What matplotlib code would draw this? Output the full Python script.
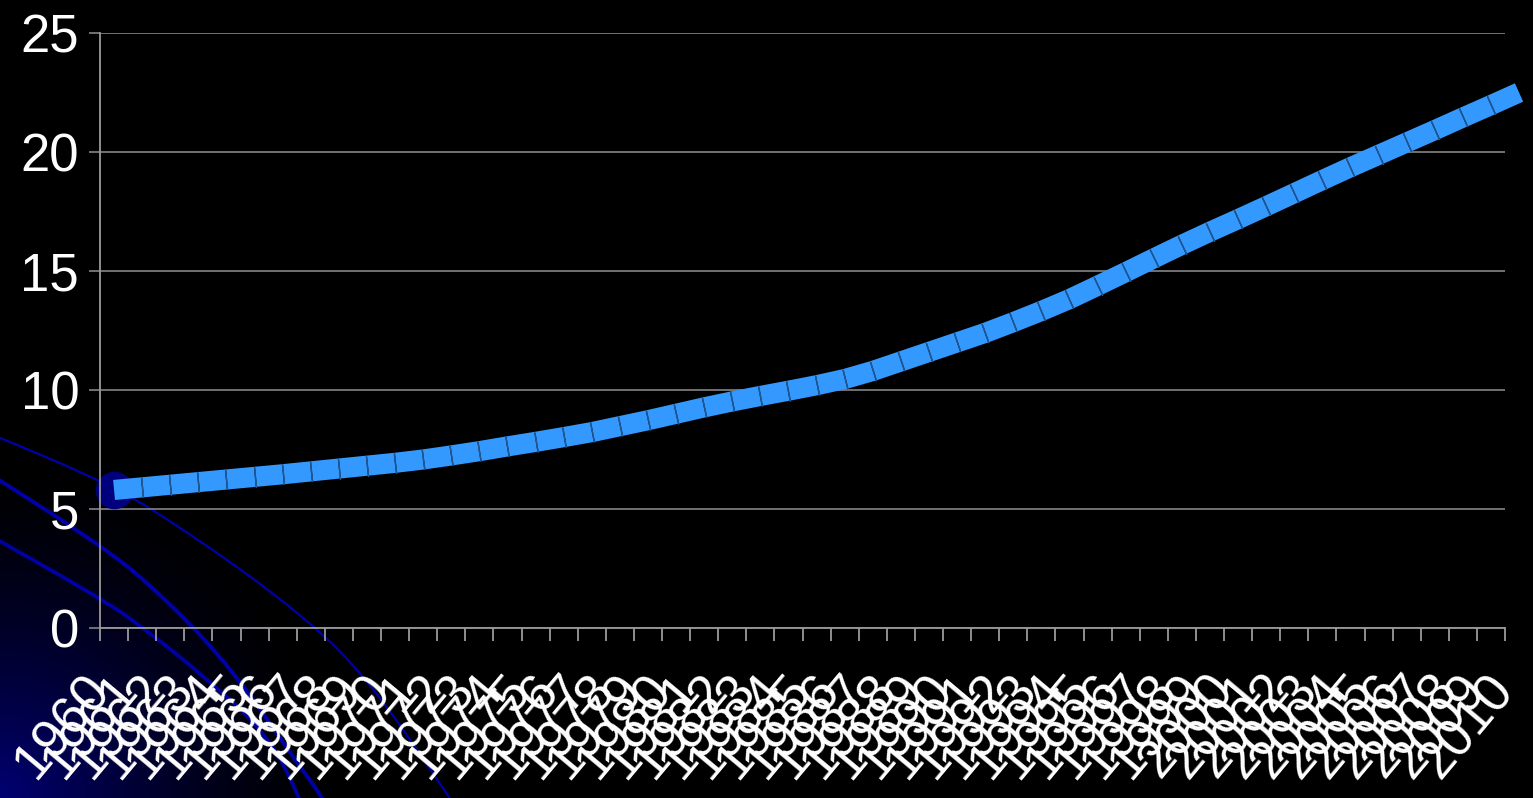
import numpy as np
import matplotlib
matplotlib.use("Agg")
import matplotlib.pyplot as plt
from matplotlib.path import Path
from matplotlib.patches import PathPatch

plt.rcParams['font.family'] = ['Liberation Sans', 'DejaVu Sans']

years = [str(y) for y in range(1960, 2011)]
values = [5.80, 5.91, 6.02, 6.13, 6.24, 6.35, 6.46, 6.58, 6.70, 6.82,
          6.94, 7.08, 7.25, 7.43, 7.63, 7.82, 8.02, 8.23, 8.48, 8.73,
          9.00, 9.27, 9.52, 9.75, 9.97, 10.20, 10.46, 10.80, 11.20, 11.60,
          12.00, 12.40, 12.85, 13.32, 13.82, 14.38, 14.95, 15.53, 16.10, 16.65,
          17.18, 17.72, 18.27, 18.82, 19.36, 19.88, 20.40, 20.92, 21.45, 21.97,
          22.50]
yticks = [0, 5, 10, 15, 20, 25]

W, H = 1533, 798
fig = plt.figure(figsize=(W / 100, H / 100), dpi=100, facecolor='black')

# slide backdrop: blue glow and swooshes in the lower-left corner
bg = fig.add_axes([0, 0, 1, 1], zorder=0)
gx, gy = np.meshgrid(np.arange(0, 520), np.arange(380, H))
r = np.hypot(gx, H - gy)
glow = np.clip(1 - r / 340.0, 0, 1) ** 1.5
img = np.zeros(gx.shape + (3,))
img[..., 2] = 0.45 * glow
bg.imshow(img, extent=(0, 520, H, 380), aspect='auto', interpolation='bilinear')


def swoosh(pts, lw):
    pts = np.asarray(pts, float)
    verts = [pts[0]]
    codes = [Path.MOVETO]
    for i in range(1, len(pts) - 1):
        verts += [pts[i], (pts[i] + pts[i + 1]) / 2]
        codes += [Path.CURVE3, Path.CURVE3]
    verts.append(pts[-1])
    codes.append(Path.LINETO)
    bg.add_patch(PathPatch(Path(verts, codes), fill=False, ec='#0000a8', lw=lw))


swoosh([(-20, 430), (100, 477), (200, 540), (300, 613), (367, 677), (450, 798), (470, 830)], 1.6)
swoosh([(-20, 468), (100, 543), (167, 600), (233, 670), (300, 767), (323, 798), (340, 830)], 2.8)
swoosh([(-20, 530), (100, 597), (150, 633), (200, 673), (267, 733), (300, 798), (310, 830)], 2.6)
bg.set_xlim(0, W)
bg.set_ylim(H, 0)
bg.axis('off')

# main chart
ax = fig.add_axes([100 / W, (H - 628) / H, 1405 / W, 595 / H], zorder=1)
ax.set_facecolor('none')
x = np.arange(len(values))
ax.set_xlim(-0.5, 49.5)
ax.set_ylim(0, 25)
ax.set_yticks(yticks)
ax.grid(axis='y', color='#7a7a7a', lw=1.3)
ax.set_axisbelow(True)
ax.set_xticks(np.arange(-0.5, 50, 1))
ax.set_xticklabels([])
ax.tick_params(axis='x', length=9, width=1.3, color='#9a9a9a', direction='out')
ax.tick_params(axis='y', length=8, width=1.3, color='#7a7a7a', labelcolor='white',
               labelsize=38, pad=7)
for s in ['top', 'right']:
    ax.spines[s].set_visible(False)
for s in ['left', 'bottom']:
    ax.spines[s].set_color('#9a9a9a')
    ax.spines[s].set_linewidth(1.3)

ax.plot(x[0], values[0], 'o', ms=26, color='#00007e', zorder=2, clip_on=False)
ax.plot(x, values, color='#3399ff', lw=14.5, solid_capstyle='butt',
        solid_joinstyle='round', zorder=3, clip_on=False)

# dark seams across the band at every data point
pts = ax.transData.transform(np.column_stack([x, values]))
for i in range(1, len(values) - 1):
    d = pts[i + 1] - pts[i - 1]
    ang = np.degrees(np.arctan2(d[1], d[0]))
    ax.plot(x[i], values[i], marker=(2, 2, ang), ms=14.5, mec='#1f5590', mew=1.0,
            ls='none', zorder=4, clip_on=False)

for i, yr in enumerate(years):
    ax.text(i - 0.5, -0.09, yr, transform=ax.get_xaxis_transform(), rotation=50,
            ha='right', va='center', rotation_mode='anchor', fontsize=38,
            color='white', clip_on=False)

fig.savefig('out.png', dpi=100, facecolor='black')
